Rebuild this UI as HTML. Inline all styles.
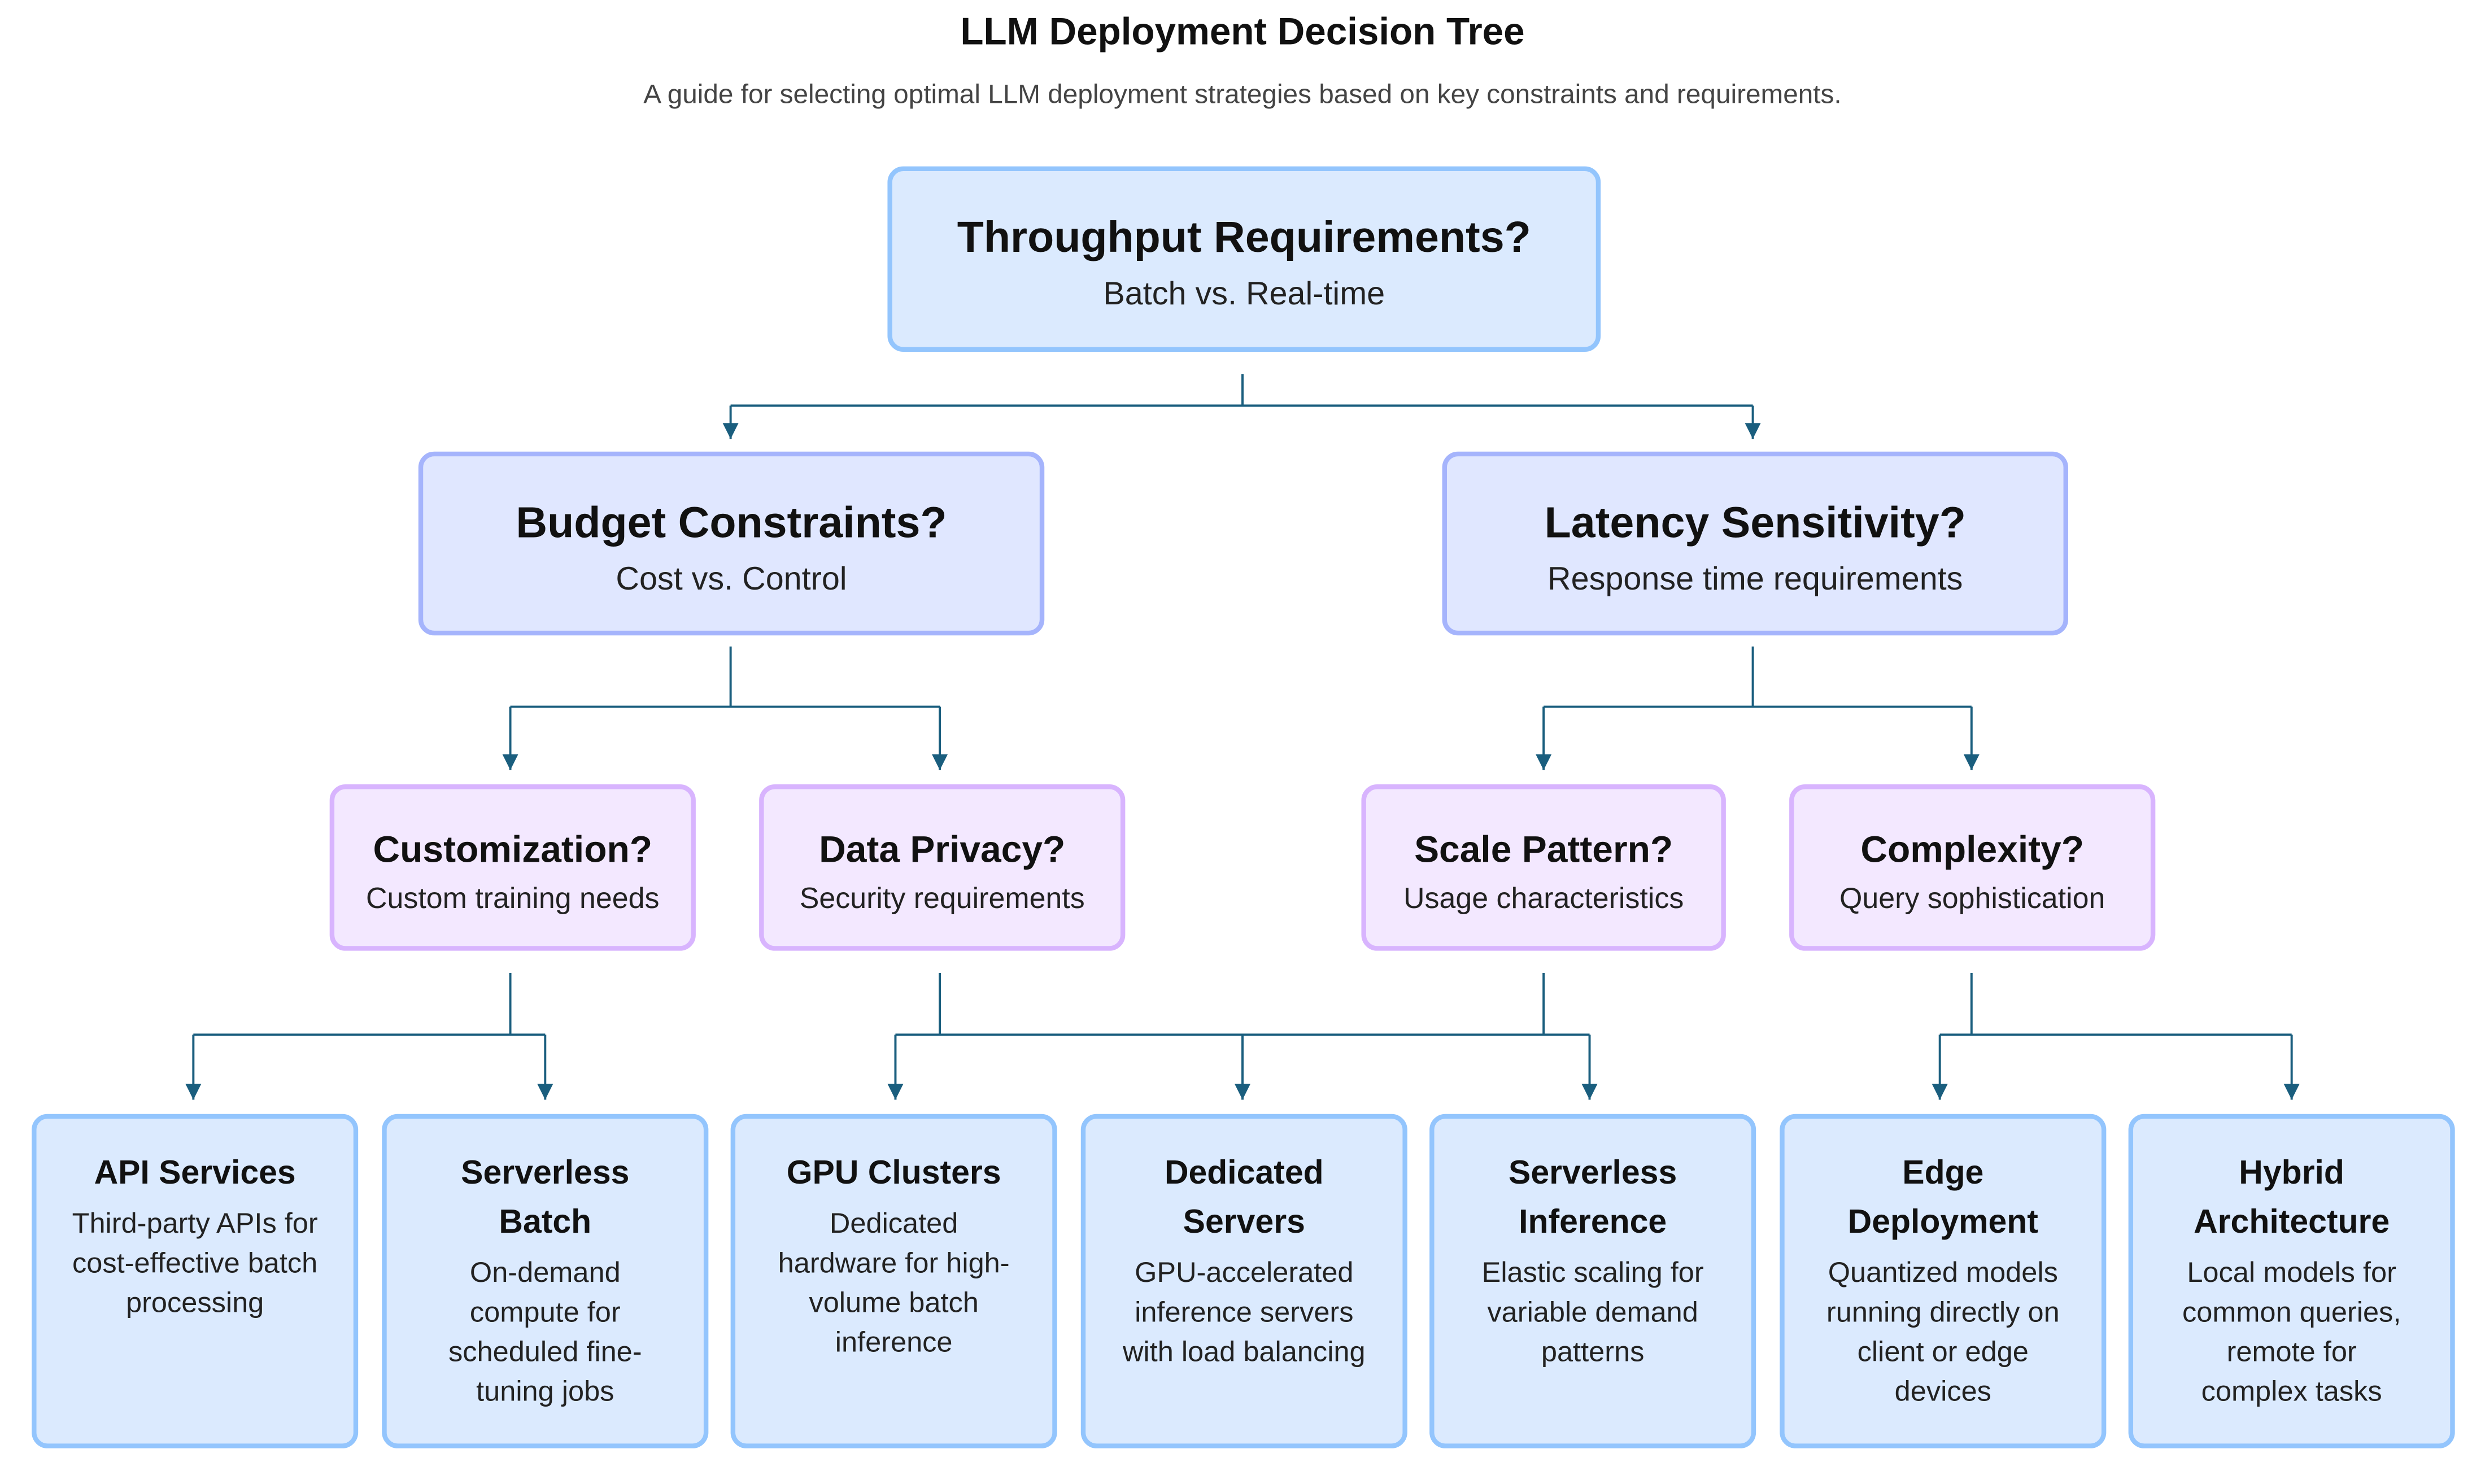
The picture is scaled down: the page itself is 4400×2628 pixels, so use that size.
<!DOCTYPE html>
<html><head><meta charset="utf-8"><style>
html,body{margin:0;padding:0;background:#fff;overflow:hidden}
#w{width:4400px;height:2628px;position:relative;overflow:hidden}
#c{width:1568px;height:937px;position:absolute;left:0;top:0;transform:scale(2.80612);transform-origin:0 0;font-family:"Liberation Sans",sans-serif;color:#111}
.b{position:absolute;box-sizing:border-box;border-radius:10px;text-align:center}
.l1{background:#dbeafe;border:3px solid #93c5fd}
.l2{background:#e0e7ff;border:3px solid #a5b4fc}
.l3{background:#f3e8ff;border:3px solid #d8b4fe}
.l4{background:#dbeafe;border:3px solid #93c5fd}
.t1{font-weight:bold;font-size:27.5px}
.s1{font-size:20.5px;color:#222;margin-top:8px}
.t3{font-weight:bold;font-size:23.5px}
.s3{font-size:18.5px;color:#222;margin-top:6px}
.t4{font-weight:bold;font-size:21px;line-height:31px}
.s4{font-size:18px;line-height:25px;color:#222;margin-top:4px;padding:0 14px}
</style></head><body><div id="w"><div id="c">
<div style="position:absolute;left:0;width:1568px;top:7px;text-align:center;font-weight:bold;font-size:24px">LLM Deployment Decision Tree</div>
<div style="position:absolute;left:0;width:1568px;top:50px;text-align:center;font-size:17px;color:#444">A guide for selecting optimal LLM deployment strategies based on key constraints and requirements.</div>

<svg style="position:absolute;left:0;top:0" width="1568" height="937">
<defs><marker id="a" markerWidth="10" markerHeight="10" refX="10" refY="5" orient="auto" markerUnits="userSpaceOnUse"><path d="M0,0 L10,5 L0,10z" fill="#1a5e7e"/></marker></defs>
<g stroke="#1a5e7e" stroke-width="1.4" fill="none">
<path d="M784 236V256M461 256H1106"/>
<path d="M461 256V277" marker-end="url(#a)"/><path d="M1106 256V277" marker-end="url(#a)"/>
<path d="M461 408V446M322 446H593M1106 408V446M974 446H1244"/>
<path d="M322 446V486" marker-end="url(#a)"/><path d="M593 446V486" marker-end="url(#a)"/>
<path d="M974 446V486" marker-end="url(#a)"/><path d="M1244 446V486" marker-end="url(#a)"/>
<path d="M322 614V653M122 653H344M593 614V653M565 653H1003M974 614V653M1244 614V653M1224 653H1446"/>
<path d="M122 653V694" marker-end="url(#a)"/><path d="M344 653V694" marker-end="url(#a)"/>
<path d="M565 653V694" marker-end="url(#a)"/><path d="M784 653V694" marker-end="url(#a)"/>
<path d="M1003 653V694" marker-end="url(#a)"/><path d="M1224 653V694" marker-end="url(#a)"/>
<path d="M1446 653V694" marker-end="url(#a)"/>
</g></svg>

<div class="b l1" style="left:560px;top:105px;width:450px;height:117px;padding-top:26px"><div class="t1">Throughput Requirements?</div><div class="s1">Batch vs. Real-time</div></div>
<div class="b l2" style="left:264px;top:285px;width:395px;height:116px;padding-top:26px"><div class="t1">Budget Constraints?</div><div class="s1">Cost vs. Control</div></div>
<div class="b l2" style="left:910px;top:285px;width:395px;height:116px;padding-top:26px"><div class="t1">Latency Sensitivity?</div><div class="s1">Response time requirements</div></div>

<div class="b l3" style="left:208px;top:495px;width:231px;height:105px;padding-top:25px"><div class="t3">Customization?</div><div class="s3">Custom training needs</div></div>
<div class="b l3" style="left:479px;top:495px;width:231px;height:105px;padding-top:25px"><div class="t3">Data Privacy?</div><div class="s3">Security requirements</div></div>
<div class="b l3" style="left:859px;top:495px;width:230px;height:105px;padding-top:25px"><div class="t3">Scale Pattern?</div><div class="s3">Usage characteristics</div></div>
<div class="b l3" style="left:1129px;top:495px;width:231px;height:105px;padding-top:25px"><div class="t3">Complexity?</div><div class="s3">Query sophistication</div></div>

<div class="b l4" style="left:20px;top:703px;width:206px;height:211px;padding-top:19px"><div class="t4">API Services</div><div class="s4">Third-party APIs for cost-effective batch processing</div></div>
<div class="b l4" style="left:241px;top:703px;width:206px;height:211px;padding-top:19px"><div class="t4">Serverless<br>Batch</div><div class="s4">On-demand<br>compute for<br>scheduled fine-<br>tuning jobs</div></div>
<div class="b l4" style="left:461px;top:703px;width:206px;height:211px;padding-top:19px"><div class="t4">GPU Clusters</div><div class="s4">Dedicated<br>hardware for high-<br>volume batch<br>inference</div></div>
<div class="b l4" style="left:682px;top:703px;width:206px;height:211px;padding-top:19px"><div class="t4">Dedicated<br>Servers</div><div class="s4" style="padding:0 4px">GPU-accelerated<br>inference servers<br>with load balancing</div></div>
<div class="b l4" style="left:902px;top:703px;width:206px;height:211px;padding-top:19px"><div class="t4">Serverless<br>Inference</div><div class="s4">Elastic scaling for<br>variable demand<br>patterns</div></div>
<div class="b l4" style="left:1123px;top:703px;width:206px;height:211px;padding-top:19px"><div class="t4">Edge<br>Deployment</div><div class="s4" style="padding:0 4px">Quantized models<br>running directly on<br>client or edge<br>devices</div></div>
<div class="b l4" style="left:1343px;top:703px;width:206px;height:211px;padding-top:19px"><div class="t4">Hybrid<br>Architecture</div><div class="s4" style="padding:0 4px">Local models for<br>common queries,<br>remote for<br>complex tasks</div></div>
</div></div></body></html>
